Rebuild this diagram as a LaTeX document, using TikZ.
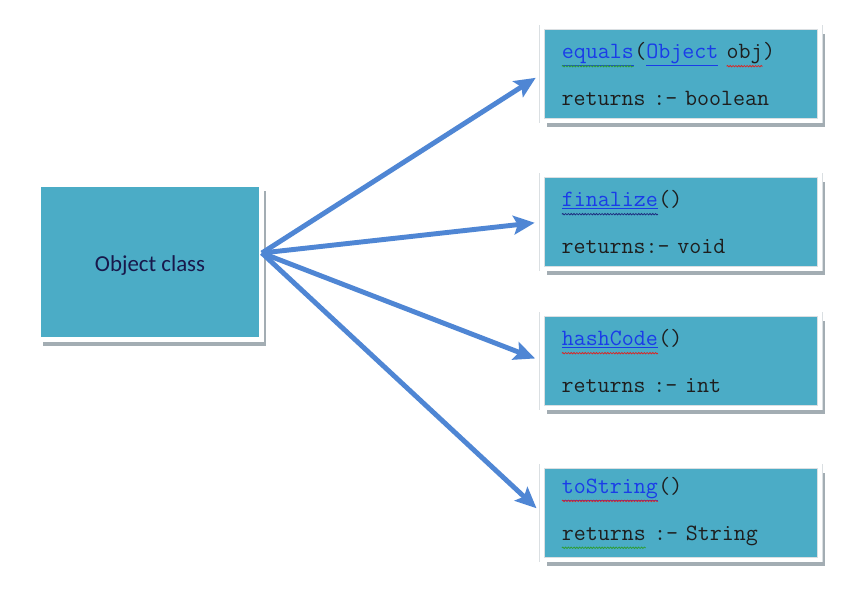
\documentclass[tikz,border=0pt]{standalone}
\usepackage{fontspec}
\usetikzlibrary{shadows}
\usetikzlibrary{arrows.meta,calc}
\usetikzlibrary{decorations.pathmorphing}
\newfontfamily\labelfont{Carlito}
\definecolor{boxteal}{HTML}{4BACC6}
\definecolor{arrowblue}{HTML}{4F86D4}
\definecolor{shadowgray}{HTML}{A3ADB3}
\definecolor{framegray}{HTML}{DADFE2}
\definecolor{linkblue}{HTML}{1A3CE8}
\definecolor{textdark}{HTML}{1E1E1E}
\definecolor{squigred}{HTML}{D42A2A}
\definecolor{squiggreen}{HTML}{2F9E3A}
\definecolor{squignavy}{HTML}{1E2F80}
\tikzstyle{classbox}=[rectangle,fill=boxteal,draw=framegray,double=white,line width=0.6pt,double distance=3.6pt,drop shadow={shadow xshift=4pt,shadow yshift=-5.5pt,fill=shadowgray,opacity=1}]
\tikzstyle{methodbox}=[classbox,text width=7.17cm,inner xsep=0.585cm,minimum height=2.8cm,align=left,text=textdark,font=\ttfamily\fontsize{19.9}{40}\selectfont]
\tikzstyle{edge}=[draw,arrowblue,line width=4.2pt,shorten >=6pt,-{Stealth[length=18pt,width=16pt,inset=3.5pt]}]
\tikzstyle{squigword}=[inner sep=0pt,outer sep=0pt,text width={},minimum width=0pt,minimum height=0pt,draw=none,fill=none]
\tikzstyle{squigline}=[line width=0.7pt,decorate,decoration={snake,amplitude=0.6pt,segment length=2.4pt}]

\newcommand{\link}[1]{\textcolor{linkblue}{\underline{#1}}}
\newcommand{\squig}[2]{\tikz[baseline=(w.base)]{\node[squigword] (w) {#2};
  \draw[squigline,#1] ([yshift=-6.5pt]w.base west) -- ([yshift=-6.5pt]w.base east);}}

\begin{document}
\begin{tikzpicture}[x=0.03cm,y=-0.03cm]

\path[use as bounding box,fill=white] (0,0) rectangle (862,606);

\node[classbox,minimum width=6.69cm,minimum height=4.65cm,text=textdark!80!blue,text height=16pt,text depth=0pt,font=\labelfont\fontsize{19.5}{23}\selectfont] (obj) at (150,262) {Object class};

\node[methodbox] (eq) at (681,74) {\squig{squiggreen}{\link{equals}}(\link{Object} \squig{squigred}{obj})\\returns :- boolean};
\node[methodbox] (fin) at (681,222) {\squig{squignavy}{\link{finalize}}()\\returns:- void};
\node[methodbox] (hash) at (681,361) {\squig{squigred}{\link{hashCode}}()\\returns :- int};
\node[methodbox] (str) at (681,513) {\squig{squigred}{\link{toString}}()\\\squig{squiggreen}{returns} :- String};

\coordinate (hub) at ($(obj.east)+(0,-9)$);

% arrows from the class to each method
\foreach \dest in {eq,fin,hash,str}
    \path[edge] (hub) -- (\dest.west);

\end{tikzpicture}
\end{document}
